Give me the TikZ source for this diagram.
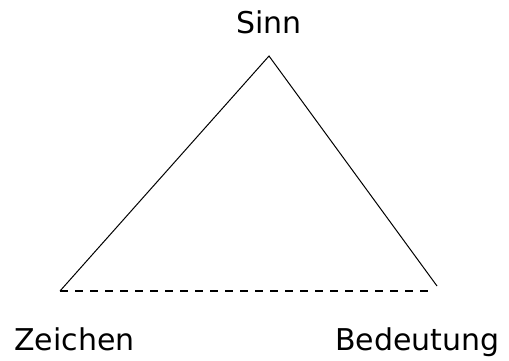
\documentclass[tikz,border=0pt]{standalone}
\usepackage{fontspec}
\setmainfont{DejaVu Sans}
\begin{document}
\begin{tikzpicture}[x=1pt, y=1pt, label/.style={inner sep=0pt, font=\fontsize{30}{36}\selectfont}]
    \useasboundingbox (0,0) rectangle (509,360);
    \coordinate (top) at (269,304);
    \coordinate (left) at (60,69);
    \coordinate (right) at (437,74);
    \coordinate (baseend) at (433,69);
    \node[label, anchor=base] (sinn) at (269,326.5) {Sinn};
    \node[label, anchor=base west] (zeichen) at (14,9.5) {Zeichen};
    \node[label, anchor=base west] (bedeutung) at (335,10) {Bedeutung};
    \draw[line width=1pt] (left) -- (top) -- (right);
    \draw[line width=1.5pt, dash pattern=on 8pt off 7pt] (left) -- (baseend);
\end{tikzpicture}
\end{document}
